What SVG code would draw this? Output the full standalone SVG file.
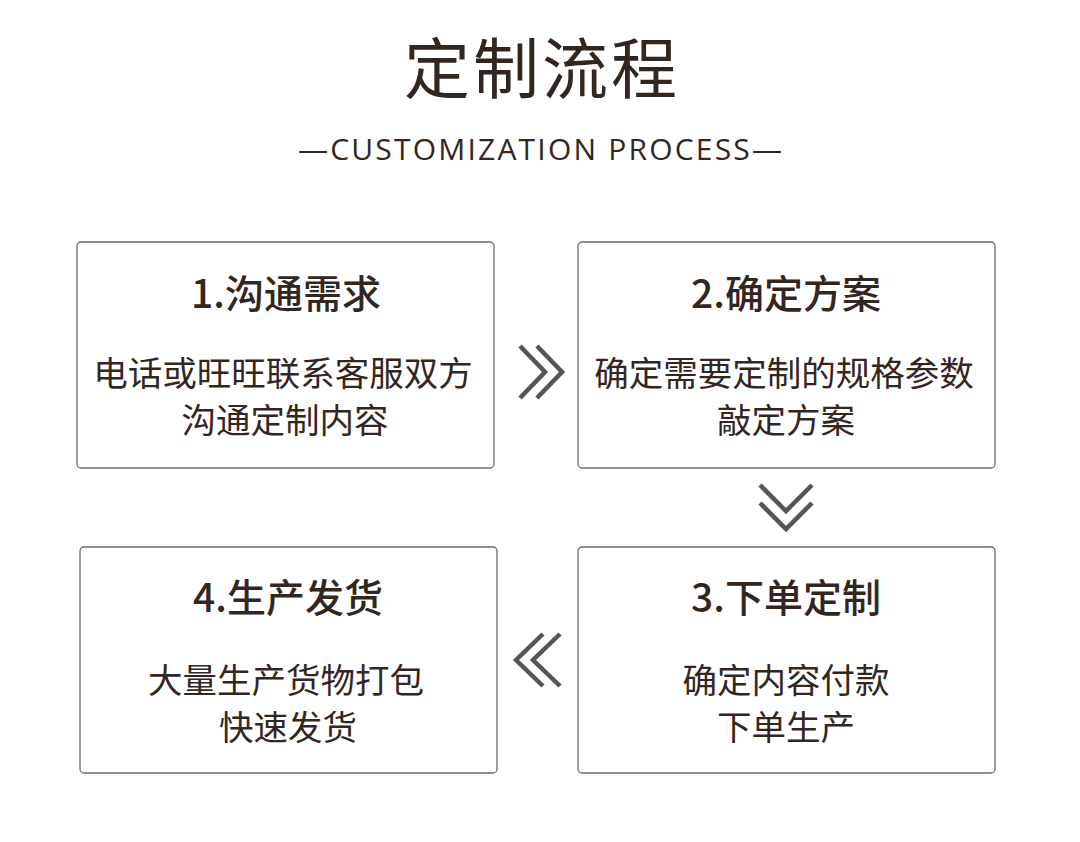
<svg xmlns="http://www.w3.org/2000/svg" width="1080" height="842" viewBox="0 0 1080 842">
<style>
.t{font-family:"Noto Sans CJK SC","Noto Sans",sans-serif;fill:#33261f;text-anchor:middle}
.h{font-size:66px;font-weight:400}
.sub{font-family:"Open Sans","Noto Sans",sans-serif;font-size:30px;font-weight:500;fill:#33261f}
.bt{font-size:39px;font-weight:500}
.bd{font-size:34.5px;font-weight:400}
.box{fill:#ffffff;stroke:#6e6a68;stroke-width:1.3}
.chev{fill:none;stroke:#555555;stroke-width:4.5;stroke-linecap:butt;stroke-linejoin:miter}
</style>
<rect width="1080" height="842" fill="#ffffff"/>
<g id="header">
<text class="t h" x="542" y="93" letter-spacing="3">定制流程</text>
<text class="sub" x="298" y="160" textLength="484" lengthAdjust="spacing">—CUSTOMIZATION PROCESS—</text>
</g>
<g id="step1">
<rect class="box" x="77" y="242" width="417" height="226" rx="4"/>
<text class="t bt" x="286" y="308">1.沟通需求</text>
<text class="t bd" x="283" y="386">电话或旺旺联系客服双方</text>
<text class="t bd" x="285" y="433">沟通定制内容</text>
</g>
<g id="step2">
<rect class="box" x="578" y="242" width="417" height="226" rx="4"/>
<text class="t bt" x="786" y="308">2.确定方案</text>
<text class="t bd" x="784" y="386">确定需要定制的规格参数</text>
<text class="t bd" x="786" y="433">敲定方案</text>
</g>
<g id="step3">
<rect class="box" x="578" y="547" width="417" height="226" rx="4"/>
<text class="t bt" x="786" y="612">3.下单定制</text>
<text class="t bd" x="786" y="693">确定内容付款</text>
<text class="t bd" x="786" y="740">下单生产</text>
</g>
<g id="step4">
<rect class="box" x="80" y="547" width="417" height="226" rx="4"/>
<text class="t bt" x="288" y="612">4.生产发货</text>
<text class="t bd" x="286" y="693">大量生产货物打包</text>
<text class="t bd" x="288" y="740">快速发货</text>
</g>
<g id="connectors">
<path class="chev" d="M520,346 L545,372 L520,398 M537,346 L562,372 L537,398"/>
<path class="chev" d="M760,485 L786,511 L812,485 M760,503 L786,529 L812,503"/>
<path class="chev" d="M543,634 L516,660 L543,686 M560,634 L533,660 L560,686"/>
</g>
</svg>
